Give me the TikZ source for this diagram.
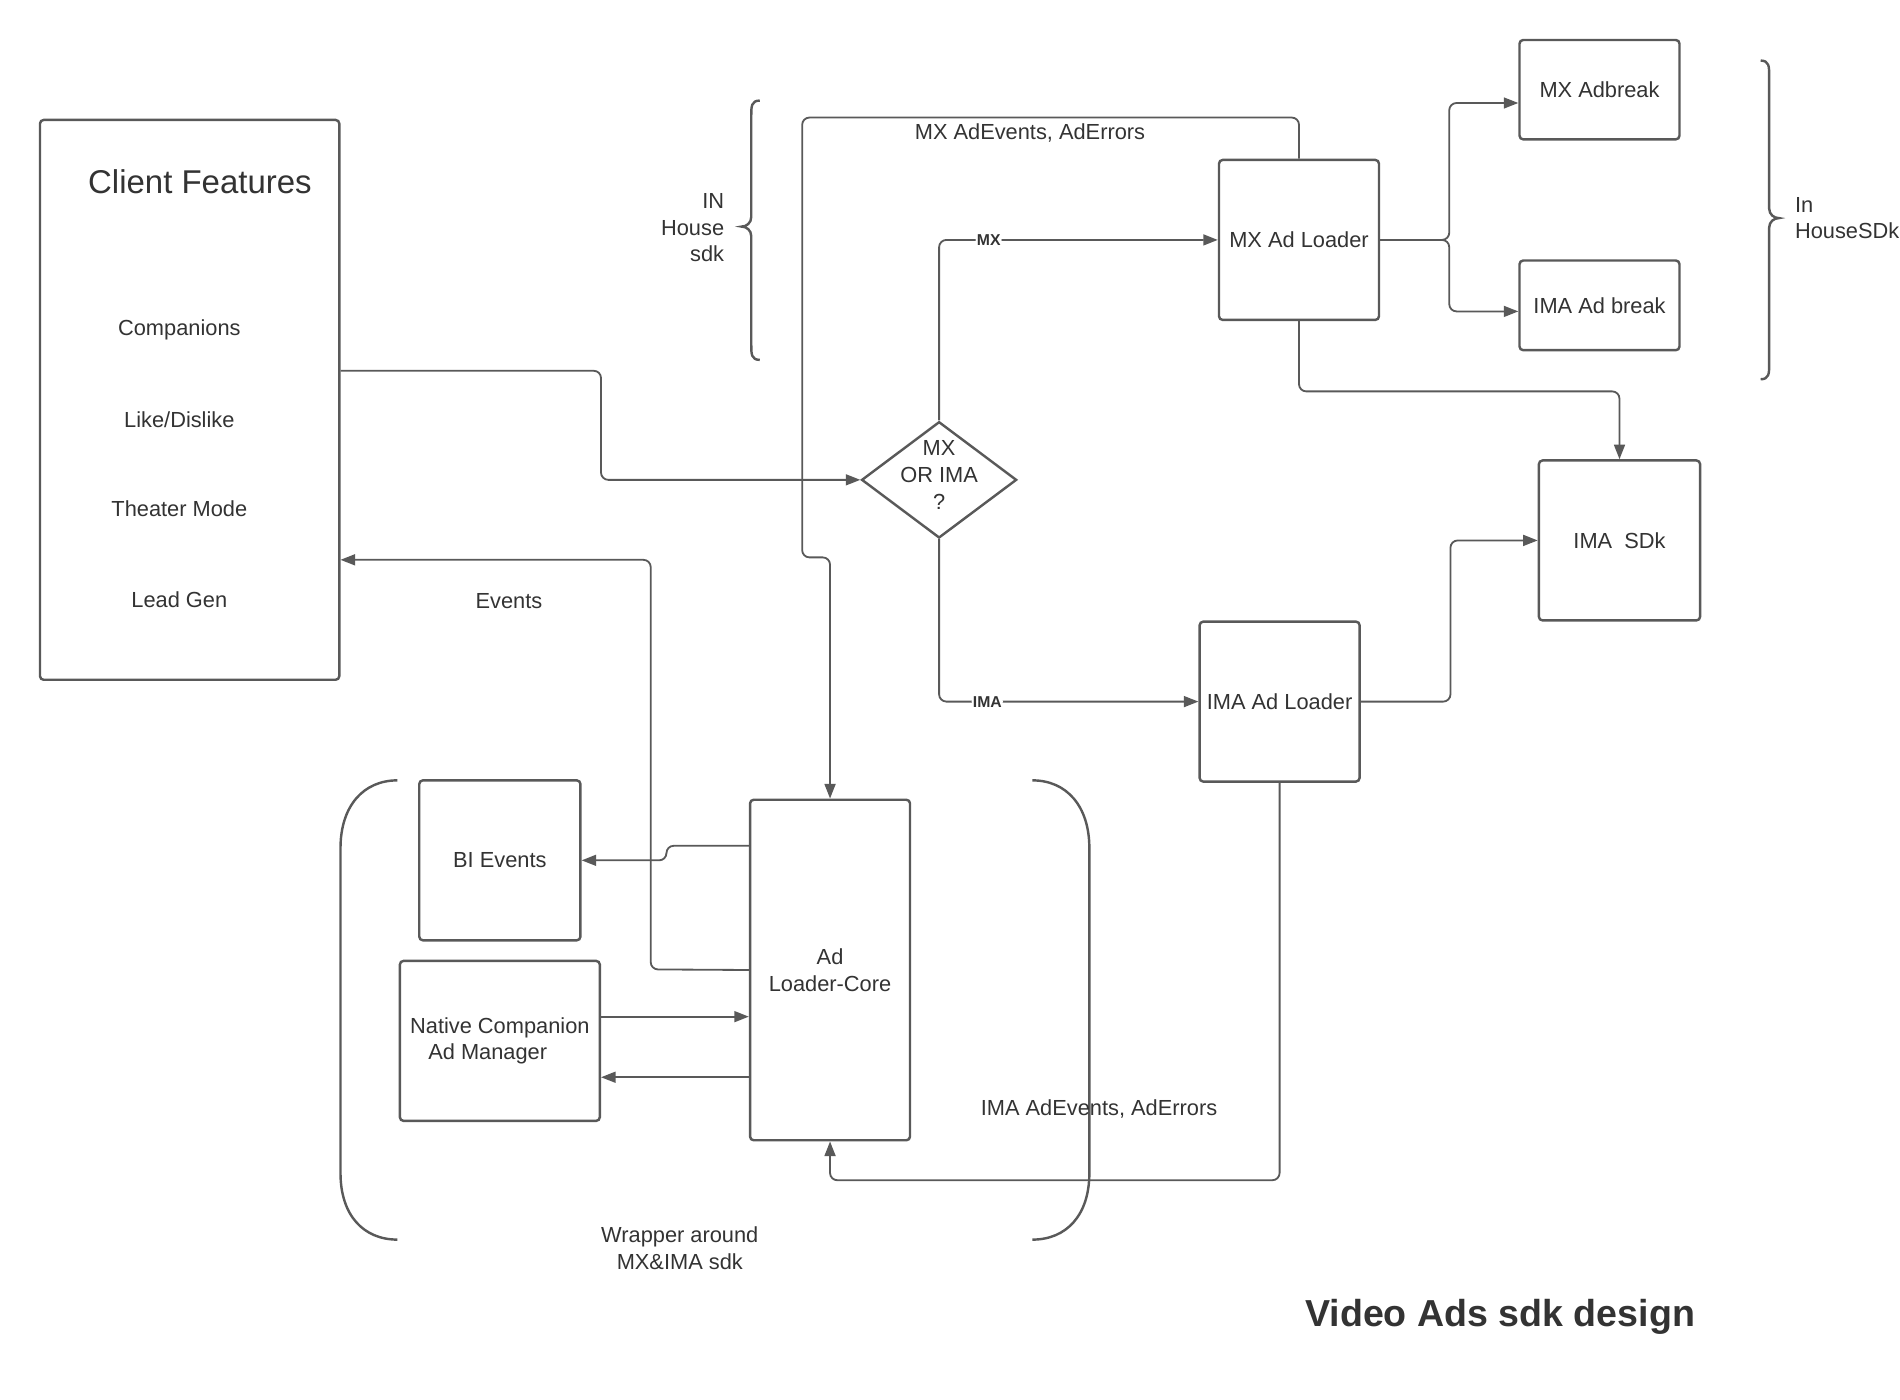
\documentclass[tikz,border=0pt]{standalone}
\usepackage{fontspec}
\setmainfont{Liberation Sans}
\usetikzlibrary{arrows.meta,shapes.geometric}
\definecolor{linecol}{rgb}{0.35,0.35,0.35}
\definecolor{textcol}{rgb}{0.20,0.20,0.20}

\begin{document}
\begin{tikzpicture}[x=0.5pt,y=-0.5pt,
  box/.style={draw=linecol,line width=1pt,rounded corners=1.5pt,fill=white,
    text=textcol,align=center,font=\fontsize{9}{11}\selectfont,inner sep=0pt},
  flow/.style={draw=linecol,line width=0.75pt,rounded corners=3pt,
    -{Triangle[length=6pt,width=4.5pt]}},
  brk/.style={draw=linecol,line width=1pt},
  txt/.style={text=textcol,align=center,font=\fontsize{9}{11}\selectfont,inner sep=0pt},
  lab/.style={text=textcol,font=\fontsize{6.5}{8}\bfseries\selectfont,fill=white,inner sep=0.5pt}]
\useasboundingbox (0,0) rectangle (1568,1155);

% client side
\node[box,minimum width=123.5pt,minimum height=231pt] (cf) at (156.5,330) {};
\node[txt,font=\fontsize{13.6}{16}\selectfont] (cftitle) at (165,150) {Client Features};
\node[txt] (comp) at (148,272) {Companions};
\node[txt] (like) at (148,346) {Like/Dislike};
\node[txt] (theater) at (148,420) {Theater Mode};
\node[txt] (lead) at (148,495) {Lead Gen};

% decision
\node[diamond,draw=linecol,line width=1pt,fill=white,minimum width=64pt,minimum height=48pt,inner sep=0pt] (dia) at (775,396) {};
\node[txt] (diatext) at (775,392) {MX\\OR IMA\\?};

% loaders and sdk
\node[box,minimum width=66pt,minimum height=66pt] (mxl) at (1072,198) {MX Ad Loader};
\node[box,minimum width=66pt,minimum height=41pt] (mxab) at (1320,74) {MX Adbreak};
\node[box,minimum width=66pt,minimum height=37pt] (imaab) at (1320,252) {IMA Ad break};
\node[box,minimum width=66.5pt,minimum height=66pt] (imasdk) at (1336.5,446) {IMA\ \ SDk};
\node[box,minimum width=66pt,minimum height=66pt] (ima) at (1056,579) {IMA Ad Loader};

% wrapper
\node[box,minimum width=66pt,minimum height=140.5pt] (core) at (685,800.5) {Ad\\Loader-Core};
\node[box,minimum width=66.5pt,minimum height=66pt] (bi) at (412.5,710) {BI Events};
\node[box,minimum width=82.5pt,minimum height=66pt] (nat) at (412.5,859) {Native Companion\\Ad Manager\hspace*{10pt}};

% braces
\draw[brk] (627,83) .. controls (620,83) and (620,88) .. (620,95) -- (620,179)
  .. controls (620,184) and (616,187) .. (612,187)
  .. controls (616,187) and (620,190) .. (620,195) -- (620,285)
  .. controls (620,292) and (620,297) .. (627,297);
\node[txt,align=right,anchor=east] (inhouse) at (598,188) {IN\\House\\sdk};
\draw[brk] (1453,50) .. controls (1460,50) and (1460,55) .. (1460,62) -- (1460,172)
  .. controls (1460,177) and (1464,180) .. (1468,180)
  .. controls (1464,180) and (1460,183) .. (1460,188) -- (1460,301)
  .. controls (1460,308) and (1460,313) .. (1453,313);
\node[txt,align=left,anchor=west] (housesdk) at (1481,180) {In\\HouseSDk};
\draw[brk] (328,644) .. controls (300,644) and (281,665) .. (281,700) -- (281,968)
  .. controls (281,1003) and (300,1023) .. (328,1023);
\draw[brk] (852,644) .. controls (880,644) and (899,665) .. (899,700) -- (899,968)
  .. controls (899,1003) and (880,1023) .. (852,1023);
\node[txt] (wrap) at (561,1030) {Wrapper around\\MX\&IMA sdk};

% connectors
\draw[flow] (cf.east |- 0,306) -- (496,306) |- (dia.west);
\draw[flow] (dia.north) |- (mxl.west) node[lab,pos=0.589] {MX};
\draw[flow] (dia.south) |- (ima.west) node[lab,pos=0.593] {IMA};
\draw[flow] (mxl.east) -- (1196,198) |- ([yshift=-5.5pt]mxab.west);
\draw[flow] (mxl.east) -- (1196,198) |- ([yshift=-2.5pt]imaab.west);
\draw[flow] (mxl.south) -- ++(0,58) -| (imasdk.north);
\draw[flow] (ima.east) -- ++(74,0) |- (imasdk.west);
\draw[flow] (ima.south) -- (ima.south |- 0,974) -| (core.south);
\draw[flow] (mxl.north) -- ++(0,-34) -| (662,460) -| (core.north);
\draw[flow] (core.west) -- (537,800) |- (cf.east |- 0,462);
\draw[flow] (core.west |- 0,698) -| (550,710) -- (bi.east);
\draw[flow] (nat.east |- 0,839) -- (core.west |- 0,839);
\draw[flow] (core.west |- 0,889) -- (nat.east |- 0,889);

% connector texts
\node[txt] (mxevt) at (850,110) {MX AdEvents, AdErrors};
\node[txt] (imaevt) at (907,915) {IMA AdEvents, AdErrors};
\node[txt] (events) at (420,496) {Events};

\node[txt,font=\fontsize{15.5}{18}\bfseries\selectfont] (title) at (1238,1087) {Video Ads sdk design};
\end{tikzpicture}
\end{document}
